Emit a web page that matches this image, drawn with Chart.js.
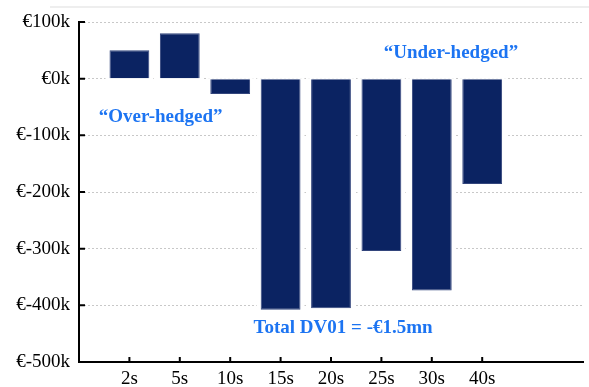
<!DOCTYPE html>
<html>
<head>
<meta charset="utf-8">
<script src="https://cdn.jsdelivr.net/npm/chart.js@4/dist/chart.umd.min.js"></script>
<style>
  html, body { margin: 0; padding: 0; background: #fff; }
  #wrap { width: 589px; height: 387px; position: relative; }
</style>
</head>
<body>
<div id="wrap"><canvas id="c"></canvas></div>
<script>
// DV01 by tenor bucket (EUR thousands)
const tenors = ['2s', '5s', '10s', '15s', '20s', '25s', '30s', '40s'];
const dv01k = [50, 80, -27, -408, -405, -304, -374, -186];
const yTicksK = [100, 0, -100, -200, -300, -400, -500];

// the axis runs one slot before the first tenor and two after the last
const labels = [''].concat(tenors, ['', '']);
const values = [null].concat(dv01k.map(v => v * 1000), [null, null]);

const NAVY = '#0b2362';
const BLUE = '#1c74f2';
const SERIF = '"Liberation Serif", "Times New Roman", serif';

// white halo behind bars so grid lines stop short of them
const barHalo = {
  id: 'barHalo',
  beforeDatasetsDraw(chart) {
    const ctx = chart.ctx;
    const meta = chart.getDatasetMeta(0);
    ctx.save();
    ctx.fillStyle = '#fff';
    meta.data.forEach((bar, i) => {
      if (values[i] === null) return;
      const p = bar.getProps(['x', 'y', 'base', 'width'], true);
      const top = Math.min(p.y, p.base), bot = Math.max(p.y, p.base);
      ctx.fillRect(p.x - p.width / 2 - 4, top - 1, p.width + 8, bot - top + 2);
    });
    ctx.restore();
  }
};

// frame line, inward tick marks and text callouts
const decor = {
  id: 'decor',
  beforeDraw(chart) {
    const ctx = chart.ctx;
    ctx.save();
    ctx.strokeStyle = '#e8e8e8';
    ctx.lineWidth = 1.5;
    ctx.beginPath();
    ctx.moveTo(50, 7);
    ctx.lineTo(chart.width, 7);
    ctx.stroke();
    ctx.restore();
  },
  afterDraw(chart) {
    const ctx = chart.ctx;
    const x = chart.scales.x, y = chart.scales.y;
    const area = chart.chartArea;
    ctx.save();
    ctx.strokeStyle = '#000';
    ctx.lineWidth = 2;
    ctx.beginPath();
    yTicksK.forEach(v => {
      const py = y.getPixelForValue(v * 1000);
      ctx.moveTo(area.left, py);
      ctx.lineTo(area.left + 6, py);
    });
    tenors.forEach((t, i) => {
      const px = x.getPixelForValue(i + 1);
      ctx.moveTo(px, area.bottom);
      ctx.lineTo(px, area.bottom - 5);
    });
    ctx.stroke();

    const step = x.getPixelForValue(1) - x.getPixelForValue(0);
    const at = (idx, k) => [x.getPixelForValue(0) + idx * step, y.getPixelForValue(k * 1000)];
    ctx.fillStyle = BLUE;
    ctx.font = 'bold 19px ' + SERIF;
    ctx.textAlign = 'center';
    ctx.textBaseline = 'middle';
    const notes = [
      ['\u201COver-hedged\u201D', 1.62, -67],
      ['\u201CUnder-hedged\u201D', 7.38, 45],
      ['Total DV01 = -\u20AC1.5mn', 5.24, -440]
    ];
    notes.forEach(([txt, idx, k]) => {
      const [px, py] = at(idx, k);
      ctx.fillText(txt, px, py);
    });
    ctx.restore();
  }
};

new Chart(document.getElementById('c'), {
  type: 'bar',
  data: {
    labels: labels,
    datasets: [{
      data: values,
      backgroundColor: NAVY,
      borderColor: '#33457c',
      borderWidth: 1,
      barPercentage: 0.79,
      categoryPercentage: 1
    }]
  },
  options: {
    responsive: true,
    maintainAspectRatio: false,
    animation: false,
    events: [],
    layout: { padding: { top: 22, right: 4, bottom: 0, left: 0 } },
    plugins: { legend: { display: false }, tooltip: { enabled: false } },
    scales: {
      x: {
        offset: false,
        afterFit(scale) { scale.height = 25; },
        grid: { display: false, drawTicks: false },
        border: { display: true, color: '#000', width: 2 },
        ticks: {
          autoSkip: false, maxRotation: 0, color: '#000', padding: 6,
          font: { family: SERIF, size: 19 }
        }
      },
      y: {
        min: -500000,
        max: 100000,
        afterBuildTicks(scale) {
          scale.ticks = yTicksK.map(k => ({ value: k * 1000 }));
        },
        afterFit(scale) { scale.width = 79; },
        grid: { color: '#c8c8c8', lineWidth: 1, drawTicks: false },
        border: { display: true, color: '#000', width: 2, dash: [2, 2] },
        ticks: {
          color: '#000', padding: 9,
          font: { family: SERIF, size: 19 },
          callback: v => '\u20AC' + (v / 1000) + 'k'
        }
      }
    }
  },
  plugins: [barHalo, decor]
});
</script>
</body>
</html>
